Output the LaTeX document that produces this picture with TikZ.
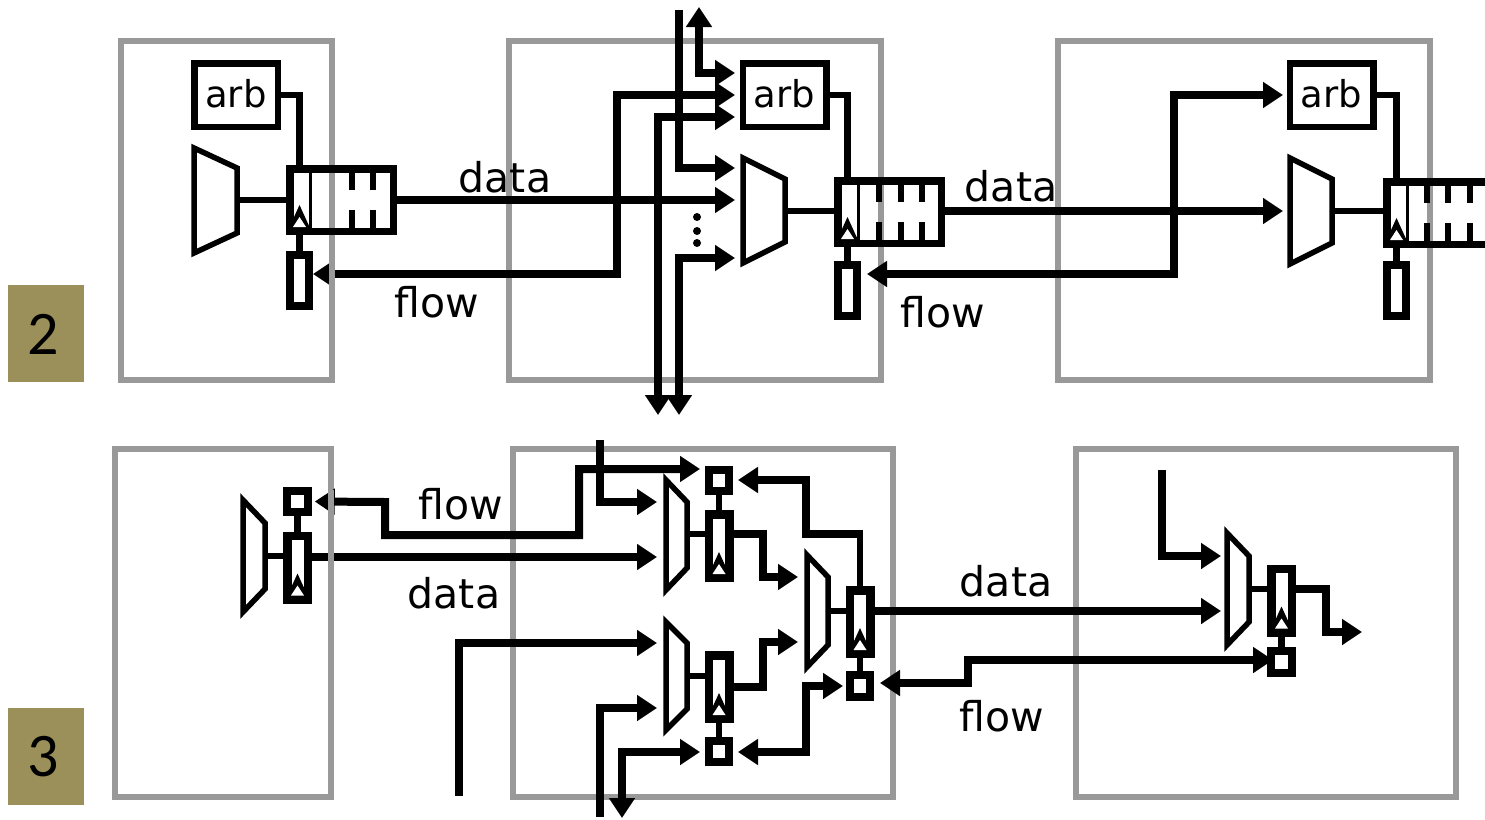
\documentclass[tikz,border=0pt]{standalone}
\usepackage{fontspec}
\setmainfont{DejaVu Sans}
\newfontfamily\numfont{Carlito}
\usetikzlibrary{arrows.meta}

\begin{document}
\begin{tikzpicture}[x=1pt, y=-1pt,
    boxline/.style={draw=boxgray, line width=6.5pt},
    tagbox/.style={fill=tagolive, minimum width=76pt, minimum height=97pt, inner sep=0pt},
    tagtext/.style={font=\numfont\fontsize{62}{66}\selectfont, text=black, inner sep=0pt},
    word/.style={font=\fontsize{41}{46}\selectfont, inner sep=0pt},
    arbbox/.style={draw, line width=6.5pt, minimum width=83.5pt, minimum height=63.5pt, inner sep=0pt, text depth=4pt, font=\fontsize{37}{42}\selectfont},
    queuebox/.style={draw, line width=7.5pt, minimum width=103.5pt, minimum height=62.5pt, inner sep=0pt},
    cellbox/.style={minimum width=27pt, minimum height=70pt, inner sep=0pt, outer sep=0pt},
    flowbox/.style={draw, line width=8pt, fill=white, minimum width=19pt, minimum height=51pt, inner sep=0pt},
    regbox/.style={draw, line width=8.5pt, fill=white, minimum width=20.5pt, minimum height=63.5pt, inner sep=0pt},
    sqbox/.style={draw, line width=8pt, fill=white, minimum width=20.5pt, minimum height=21.5pt, inner sep=0pt},
    mux/.style={draw, line width=5.5pt, fill=white},
    wire/.style={draw, line width=8pt},
    thinwire/.style={draw, line width=6.5pt},
    arrow/.style={wire, -{Triangle[length=20pt,width=25pt]}},
    biarrow/.style={wire, {Triangle[length=20pt,width=25pt]}-{Triangle[length=20pt,width=25pt]}}]
    \definecolor{boxgray}{RGB}{153,153,153}
    \definecolor{tagolive}{RGB}{155,144,90}
    \useasboundingbox (0,0) rectangle (1485,819);

    % outer boxes and slide numbers
    \foreach \a/\b/\c/\d in {121/41/332/380, 509/41/881/380, 1058/41/1430/380, 115/449/331/797, 513/449/893/797, 1076/449/1456/797}
        {\draw[boxline] (\a,\b) rectangle (\c,\d);}
    \node[tagbox] (tagTwo) at (46,333.5) {}; \node[tagbox] (tagThree) at (46,756.5) {};
    \node[tagtext] (numTwo) at (43,334) {2}; \node[tagtext] (numThree) at (43,757) {3};

    % muxes: left, top, width, slant, height, output y
    \foreach \n/\x/\y/\w/\s/\h/\m in {A/194/148/43/20/105/200, B/743/158/42/21/105/211, C/1290/158/42/21/106/211,
        D/243/500/22/23/112/556, E/666/480/21/22/110/534, F/666/622/21/21/108/676, G/807/555/21/22/112/611, H/1227/533/22/23/112/589} {
        \draw[mux] (\x,\y) -- ({\x+\w},{\y+\s}) -- ({\x+\w},{\y+\h-\s}) -- (\x,{\y+\h}) -- cycle;
        \coordinate (mux\n) at ({\x+\w},\m);
    }

    % queues with their first cell
    \foreach \n/\x/\y/\ticks in {A/286/165/{66,87}, B/834/177/{45,67,88}, C/1383/178/{44,65,87}} {
        \node[queuebox] (queue\n) at ({\x+55.5},{\y+35}) {};
        \node[cellbox] (cell\n) at ({\x+13.5},{\y+35}) {};
        \draw[line width=3pt] ({\x+24},\y) -- ({\x+24},{\y+70});
        \foreach \t in \ticks {
            \draw[line width=6.5pt] ({\x+\t},\y) -- ({\x+\t},{\y+25}); \draw[line width=6.5pt] ({\x+\t},{\y+45}) -- ({\x+\t},{\y+70});
        }
    }
    \node[arbbox] (arbA) at (236,95) {arb}; \node[arbbox] (arbB) at (784.5,95) {arb}; \node[arbbox] (arbC) at (1331.5,95) {arb};
    \node[flowbox] (flowA) at (299.5,280.5) {}; \node[flowbox] (flowB) at (847.5,290.5) {}; \node[flowbox] (flowC) at (1396.5,290.5) {};

    \foreach \n/\x/\y in {D/297.5/567.5, E/719/546, F/719/687, G/860/622, H/1281.5/600.5} {\node[regbox] (cell\n) at (\x,\y) {};}
    \foreach \n/\x/\y in {D/297.5/501.5, E/719/480.5, F/719/751.5, G/860/686, H/1281.5/662} {\node[sqbox] (sq\n) at (\x,\y) {};}

    % clock marks
    \foreach \n in {A,B,C,D,E,F,G,H} {
        \fill ([shift={(-10.5,-7)}]cell\n.south) -- ([shift={(0,-30)}]cell\n.south) -- ([shift={(10.5,-7)}]cell\n.south) -- cycle;
        \fill[white] ([shift={(-6.5,-8)}]cell\n.south) -- ([shift={(0,-18)}]cell\n.south) -- ([shift={(6.5,-8)}]cell\n.south) -- cycle;
    }

    % top row: local wires
    \foreach \n in {A,B,C} {
        \draw[thinwire] (arb\n.east) -| (cell\n.north);
        \draw[thinwire] (cell\n.south) -- (flow\n.north);
        \draw[thinwire] (mux\n) -- (mux\n -| cell\n.west);
    }
    % top row: long wires
    \coordinate (dataB) at (735,200); \coordinate (dataC) at (1283,211);
    \draw[arrow] (queueA.east |- dataB) -- (dataB);
    \draw[arrow] (queueB.east |- dataC) -- (dataC);
    \coordinate (arbInA) at (735,73); \coordinate (arbInB) at (735,95); \coordinate (arbInC) at (735,117); \coordinate (arbInD) at (1283,95);
    \coordinate (turnA) at (617,274); \coordinate (turnB) at (1174,274);
    \draw[biarrow] (turnA -| flowA.east) -- (turnA) |- (arbInB);
    \draw[biarrow] (867,274) -- (turnB) |- (arbInD);
    \coordinate (upOut) at (699,7); \coordinate (downA) at (658,415); \coordinate (downB) at (679,415);
    \coordinate (muxInA) at (735,168); \coordinate (muxInB) at (735,258); \coordinate (topIn) at (679,10);
    \draw[biarrow] (upOut) |- (arbInA);
    \draw[arrow] (topIn) |- (muxInA);
    \draw[biarrow] (downA) |- (arbInC);
    \draw[biarrow] (downB) |- (muxInB);
    \foreach \y in {217,231,243} {\fill (697,\y) circle (4pt);}
    \draw[boxline] (332,258) -- (332,292);

    % bottom row: local wires
    \foreach \n in {D,E,F,G,H} {\draw[thinwire] (mux\n) -- (mux\n -| cell\n.west);}
    \foreach \n in {D,E} {\draw[thinwire] (sq\n.south) -- (cell\n.north);}
    \foreach \n in {F,G,H} {\draw[thinwire] (cell\n.south) -- (sq\n.north);}

    % bottom row: inputs of the muxes
    \coordinate (inD) at (657,502); \coordinate (inE) at (657,557); \coordinate (inF) at (657,643); \coordinate (inG) at (657,708);
    \coordinate (inH) at (798,577); \coordinate (inI) at (798,642); \coordinate (inJ) at (1221,556); \coordinate (inK) at (1221,611);
    \coordinate (sqInE) at (700,469); \coordinate (sqInF) at (700,752); \coordinate (sqInG) at (843,686); \coordinate (sqOutG) at (880,683);
    \coordinate (sqInH) at (1273,660); \coordinate (outH) at (1362,632);

    \draw[biarrow, shorten <=3pt] (sqD.east) -- (385,502) -- (385,535) -- (579,535) |- (sqInE);
    \draw[arrow] (600,440) |- (inD);
    \draw[arrow] (cellD.east |- inE) -- (inE);
    \draw[arrow] (459,796) |- (inF);
    \draw[arrow] (600,817) |- (inG);
    \draw[biarrow] (622,818) |- (sqInF);

    \draw[arrow] (muxE -| cellE.east) -- (763,534) |- (inH);
    \draw[arrow] (cellF.east) -- (763,687) |- (inI);

    % flow between the stages
    \draw[arrow] (863,534) -- (806,534) |- (738,480);
    \draw[thinwire] (860,531) -- (cellG.north);
    \draw[biarrow] (738,752) -- (806,752) |- (sqInG);

    % to and from the right box
    \draw[arrow] (cellG.east |- inK) -- (inK);
    \draw[biarrow] (sqOutG) -- (968,683) |- (sqInH);
    \draw[arrow] (1162,470) |- (inJ);
    \draw[arrow] (muxH -| cellH.east) -- (1326,589) |- (outH);
    \draw[boxline] (331,490) -- (331,515); \draw[boxline] (331,545) -- (331,567);

    % labels
    \node[word] (dataA) at (505,177) {data}; \node[word] (flowTextA) at (437,302) {flow};
    \node[word] (dataBtext) at (1011,186) {data}; \node[word] (flowTextB) at (943,312) {flow};
    \node[word] (flowTextC) at (461,504) {flow}; \node[word] (dataCtext) at (454,593) {data};
    \node[word] (dataDtext) at (1006,581) {data}; \node[word] (flowTextD) at (1002,716) {flow};
\end{tikzpicture}
\end{document}
